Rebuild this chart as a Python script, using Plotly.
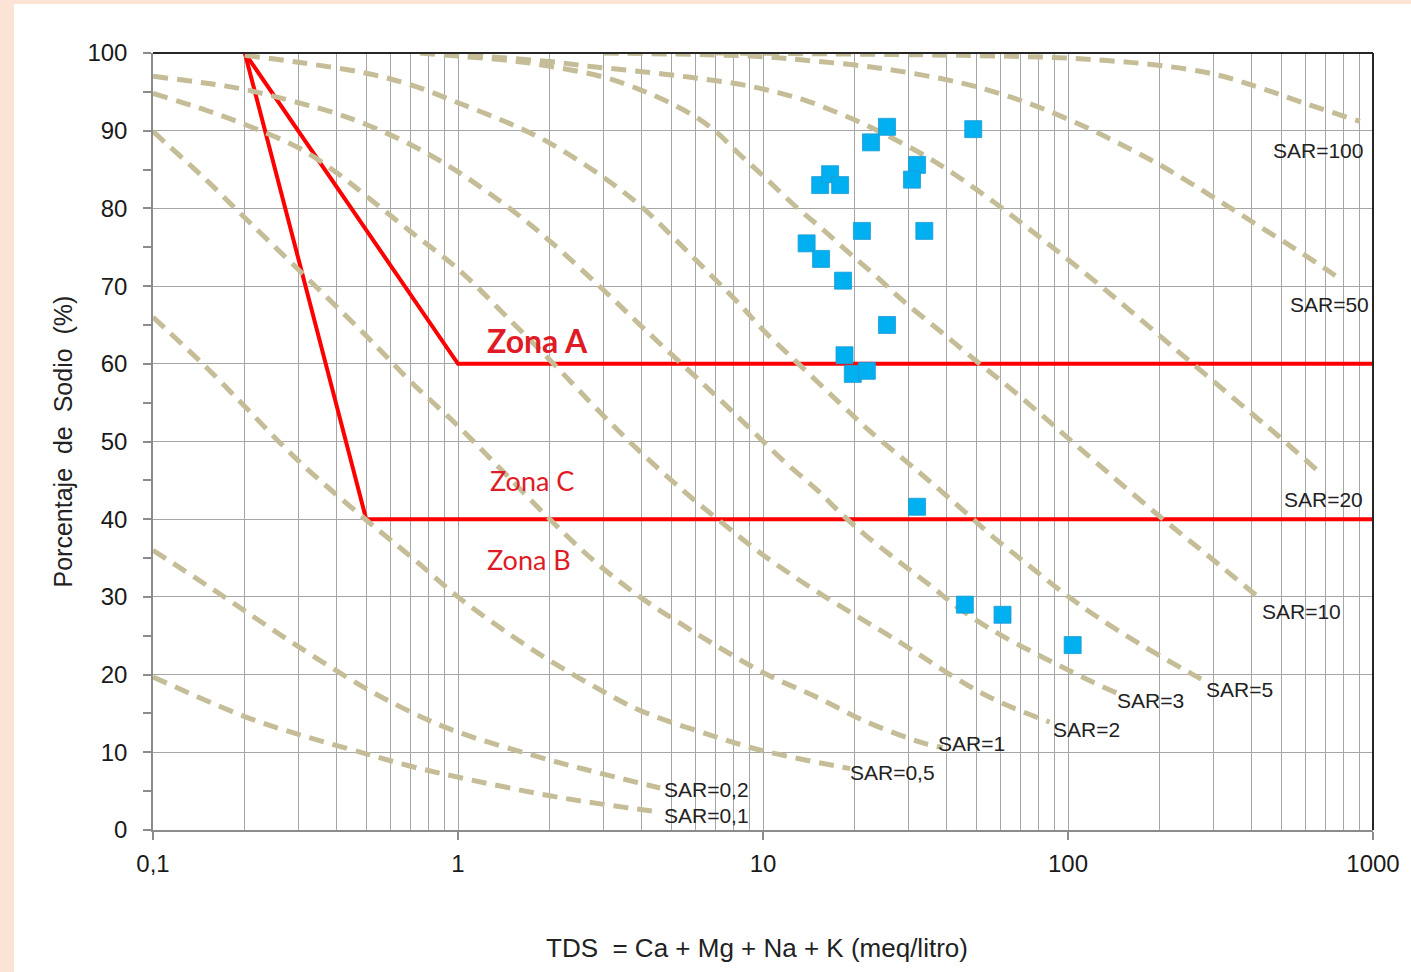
import math
import plotly.graph_objects as go

# ---------------- data ----------------
# Sample points (TDS in meq/l, % Na)
sample_tds = [25.5, 48.9, 22.6, 32.0, 30.8, 15.4, 16.6, 17.9, 21.1, 33.8, 13.9,
              15.5, 18.3, 25.5, 18.5, 19.7, 21.9, 32.0, 45.9, 61.0, 103.6]
sample_na = [90.5, 90.2, 88.5, 85.6, 83.7, 83.0, 84.4, 83.0, 77.1, 77.1, 75.5,
             73.5, 70.7, 65.0, 61.1, 58.7, 59.1, 41.6, 29.0, 27.7, 23.8]

# SAR iso-lines
sar01_x = [0.1, 0.2, 0.3, 0.5, 0.7, 1.0, 2.0, 3.0, 4.6]
sar01_y = [19.7, 14.6, 12.3, 9.8, 8.2, 6.8, 4.4, 3.3, 2.3]

sar02_x = [0.1, 0.15, 0.2, 0.3, 0.5, 0.7, 1.0, 2.0, 3.0, 4.6]
sar02_y = [36.0, 31.5, 28.2, 23.6, 18.2, 15.2, 12.6, 9.0, 7.2, 5.4]

sar05_x = [0.1, 0.15, 0.2, 0.3, 0.5, 0.7, 1.0, 1.5, 2.0, 3.0, 4.0, 7.0, 10.0, 19.3]
sar05_y = [66.0, 59.5, 54.5, 47.5, 39.9, 35.2, 30.0, 25.0, 21.8, 17.8, 15.3, 12.0, 10.2, 7.9]

sar1_x = [0.1, 0.15, 0.2, 0.3, 0.5, 0.7, 1.0, 1.4, 2.0, 2.8, 3.95, 5.5, 7.4, 10.3,
          15.0, 21.9, 33.4, 38.8]
sar1_y = [89.9, 83.6, 78.8, 72.1, 63.6, 57.7, 52.0, 46.2, 40.0, 34.6, 30.0, 26.3,
          23.2, 20.0, 17.1, 13.9, 11.2, 10.6]

sar2_x = [0.1, 0.15, 0.2, 0.3, 0.4, 0.5, 0.7, 1.0, 1.5, 2.0, 3.0, 4.0, 5.5, 7.0,
          10.0, 15.0, 28.0, 47.0, 61.0, 87.0]
sar2_y = [94.8, 92.6, 90.8, 87.8, 84.6, 81.6, 77.0, 72.2, 65.4, 60.5, 53.3, 48.5,
          43.6, 40.2, 35.4, 30.7, 24.2, 18.6, 16.3, 13.9]

sar3_x = [0.1, 0.15, 0.2, 0.3, 0.4, 0.5, 0.7, 1.0, 1.5, 2.0, 3.0, 4.0, 5.8, 7.4,
          9.1, 11.6, 15.0, 18.3, 21.9, 28.0, 35.8, 44.0, 59.5, 89.0, 121.0, 145.0]
sar3_y = [97.0, 96.1, 95.3, 93.6, 92.2, 90.8, 88.2, 84.7, 79.8, 75.8, 69.5, 64.8,
          58.9, 55.0, 51.6, 47.6, 43.8, 40.5, 37.8, 34.5, 31.3, 28.5, 25.2, 21.6,
          19.0, 17.6]

sar5_x = [0.2, 0.3, 0.5, 0.7, 1.0, 1.5, 2.0, 3.0, 4.0, 5.6, 8.5, 10.1, 13.4, 19.4,
          22.3, 31.7, 47.0, 56.5, 73.0, 99.0, 126.0, 176.0, 257.0, 284.0]
sar5_y = [99.7, 98.8, 97.4, 95.9, 93.6, 90.8, 88.4, 84.0, 80.2, 74.6, 67.4, 64.2,
          59.6, 53.6, 51.4, 46.4, 40.6, 37.8, 34.3, 30.2, 27.3, 23.7, 20.0, 19.1]

sar10_x = [0.75, 1.0, 1.5, 2.0, 3.0, 4.0, 5.0, 6.0, 7.0, 8.3, 10.0, 13.0, 15.6,
           19.0, 23.3, 29.0, 38.4, 51.0, 64.0, 89.0, 99.0, 137.0, 205.0, 290.0, 420.0]
sar10_y = [100.0, 99.6, 99.0, 98.3, 96.9, 95.2, 93.5, 91.8, 89.9, 87.1, 84.2, 80.0,
           77.4, 74.4, 71.4, 68.0, 64.1, 60.1, 57.0, 52.2, 50.6, 45.8, 40.0, 35.2, 30.0]

sar20_x = [0.9, 2.0, 2.67, 3.8, 5.7, 8.3, 11.2, 14.0, 17.6, 21.6, 25.8, 33.2, 42.4,
           59.5, 76.0, 93.0, 121.0, 156.0, 200.0, 246.0, 316.0, 400.0, 480.0, 660.0]
sar20_y = [99.9, 98.9, 98.3, 97.7, 96.9, 96.0, 94.9, 93.8, 92.3, 90.8, 89.3, 87.0,
           84.4, 80.3, 77.1, 74.4, 70.8, 67.2, 63.6, 60.6, 57.0, 53.6, 51.0, 46.2]

sar50_x = [3.0, 9.1, 13.5, 24.7, 44.0, 59.5, 80.6, 115.0, 155.0, 200.0, 256.0,
           330.0, 420.0, 550.0, 700.0, 780.0]
sar50_y = [100.0, 99.6, 99.1, 98.0, 96.2, 94.8, 93.0, 90.4, 87.9, 85.6, 83.1, 80.4,
           77.8, 74.9, 72.2, 70.9]

sar100_x = [7.0, 44.0, 93.0, 137.0, 200.0, 300.0, 420.0, 600.0, 906.0]
sar100_y = [100.0, 99.7, 99.4, 99.0, 98.4, 97.3, 95.6, 93.5, 91.2]

sar_labels = ["SAR=0,1", "SAR=0,2", "SAR=0,5", "SAR=1", "SAR=2", "SAR=3",
              "SAR=5", "SAR=10", "SAR=20", "SAR=50", "SAR=100"]
sar_label_x = [6.55, 6.55, 26.5, 48.4, 115.0, 186.0, 366.0, 585.0, 690.0, 718.0, 661.0]
sar_label_y = [1.9, 5.15, 7.46, 11.1, 12.9, 16.7, 18.1, 28.1, 42.5, 67.6, 87.5]

# Zone boundaries
zoneA_x = [0.2, 1.0, 1000.0]
zoneA_y = [100.0, 60.0, 60.0]
zoneB_x = [0.2, 0.5, 1000.0]
zoneB_y = [100.0, 40.0, 40.0]

zone_labels = ["<b>Zona A</b>", "Zona C", "Zona B"]
zone_label_x = [1.816, 1.748, 1.71]
zone_label_y = [63.0, 45.0, 34.8]
zone_label_size = [32, 27, 27]

# ---------------- figure ----------------
TAN = "#c4bd97"
RED = "#ff0000"
fig = go.Figure()

for zx, zy in [(zoneA_x, zoneA_y), (zoneB_x, zoneB_y)]:
    fig.add_trace(go.Scatter(x=zx, y=zy, mode="lines",
                             line=dict(color=RED, width=4), hoverinfo="skip",
                             showlegend=False))

curves = [(sar01_x, sar01_y), (sar02_x, sar02_y), (sar05_x, sar05_y),
          (sar1_x, sar1_y), (sar2_x, sar2_y), (sar3_x, sar3_y), (sar5_x, sar5_y),
          (sar10_x, sar10_y), (sar20_x, sar20_y), (sar50_x, sar50_y),
          (sar100_x, sar100_y)]
for cx, cy in curves:
    fig.add_trace(go.Scatter(x=cx, y=cy, mode="lines",
                             line=dict(color=TAN, width=5, dash="15px,9px",
                                       shape="spline", smoothing=1.0),
                             hoverinfo="skip", showlegend=False))

fig.add_trace(go.Scatter(x=sample_tds, y=sample_na, mode="markers",
                         marker=dict(symbol="square", size=17, color="#00b0f0",
                                     line=dict(color="#1f9ad6", width=0.8)),
                         showlegend=False))

for t, lx, ly in zip(sar_labels, sar_label_x, sar_label_y):
    fig.add_annotation(x=math.log10(lx), y=ly, xref="x", yref="y", text=t,
                       showarrow=False,
                       font=dict(family="Liberation Sans", size=21, color="#222222"),
                       xanchor="center", yanchor="middle")

for t, lx, ly, fs in zip(zone_labels, zone_label_x, zone_label_y, zone_label_size):
    fig.add_annotation(x=math.log10(lx), y=ly, xref="x", yref="y", text=t,
                       showarrow=False,
                       font=dict(family="Lato", size=fs, color="#e01b25"),
                       xanchor="center", yanchor="middle")

# axis titles
fig.add_annotation(x=-0.0738, y=0.5, xref="paper", yref="paper",
                   text="Porcentaje  de  Sodio  (%)", textangle=-90, showarrow=False,
                   font=dict(family="Liberation Sans", size=25, color="#222222"),
                   xanchor="center", yanchor="middle")
fig.add_annotation(x=0.495, y=-0.152, xref="paper", yref="paper",
                   text="TDS  = Ca + Mg + Na + K (meq/litro)", showarrow=False,
                   font=dict(family="Liberation Sans", size=26, color="#222222"),
                   xanchor="center", yanchor="middle")

GRID = "#a6a6a6"
AX = "#8c8c8c"
fig.update_layout(
    width=1411, height=972,
    margin=dict(l=153, r=38, t=53, b=142),
    paper_bgcolor="#fbe4d5",
    plot_bgcolor="white",
    separators=",.",
    showlegend=False,
    xaxis=dict(type="log", range=[-1, 3], dtick=1, exponentformat="none",
               showgrid=True, gridcolor=GRID, gridwidth=1,
               showline=True, linecolor=AX, linewidth=1.5,
               ticks="outside", ticklen=8, tickcolor=AX, tickwidth=1.5,
               ticklabelstandoff=3,
               tickfont=dict(family="Liberation Sans", size=24, color="#1a1a1a"),
               minor=dict(dtick="D1", showgrid=True, gridcolor=GRID, gridwidth=1,
                          ticks=""),
               zeroline=False),
    yaxis=dict(range=[0, 100], dtick=10, showgrid=True, gridcolor=GRID, gridwidth=1,
               showline=True, linecolor=AX, linewidth=1.5,
               ticks="outside", ticklen=8, tickcolor=AX, tickwidth=1.5,
               ticklabelstandoff=11,
               tickfont=dict(family="Liberation Sans", size=24, color="#1a1a1a"),
               minor=dict(dtick=5, ticks="outside", ticklen=8, tickcolor=AX,
                          tickwidth=1.5, showgrid=False),
               zeroline=False),
    shapes=[
        dict(type="rect", xref="paper", yref="paper", x0=-0.1139, x1=1.05,
             y0=-0.25, y1=1.0631, fillcolor="white", line=dict(width=0),
             layer="below"),
        dict(type="line", xref="paper", yref="paper", x0=0, x1=1, y0=1, y1=1,
             line=dict(color="#262626", width=2), layer="above"),
        dict(type="line", xref="paper", yref="paper", x0=1, x1=1, y0=0, y1=1,
             line=dict(color="#262626", width=2), layer="above"),
    ],
)

fig.write_html(
    "out.html",
    config={"displayModeBar": False},
    post_script="document.body.style.margin='0px';"
                "document.body.style.overflow='hidden';"
                "document.body.style.background='#fbe4d5';",
)
